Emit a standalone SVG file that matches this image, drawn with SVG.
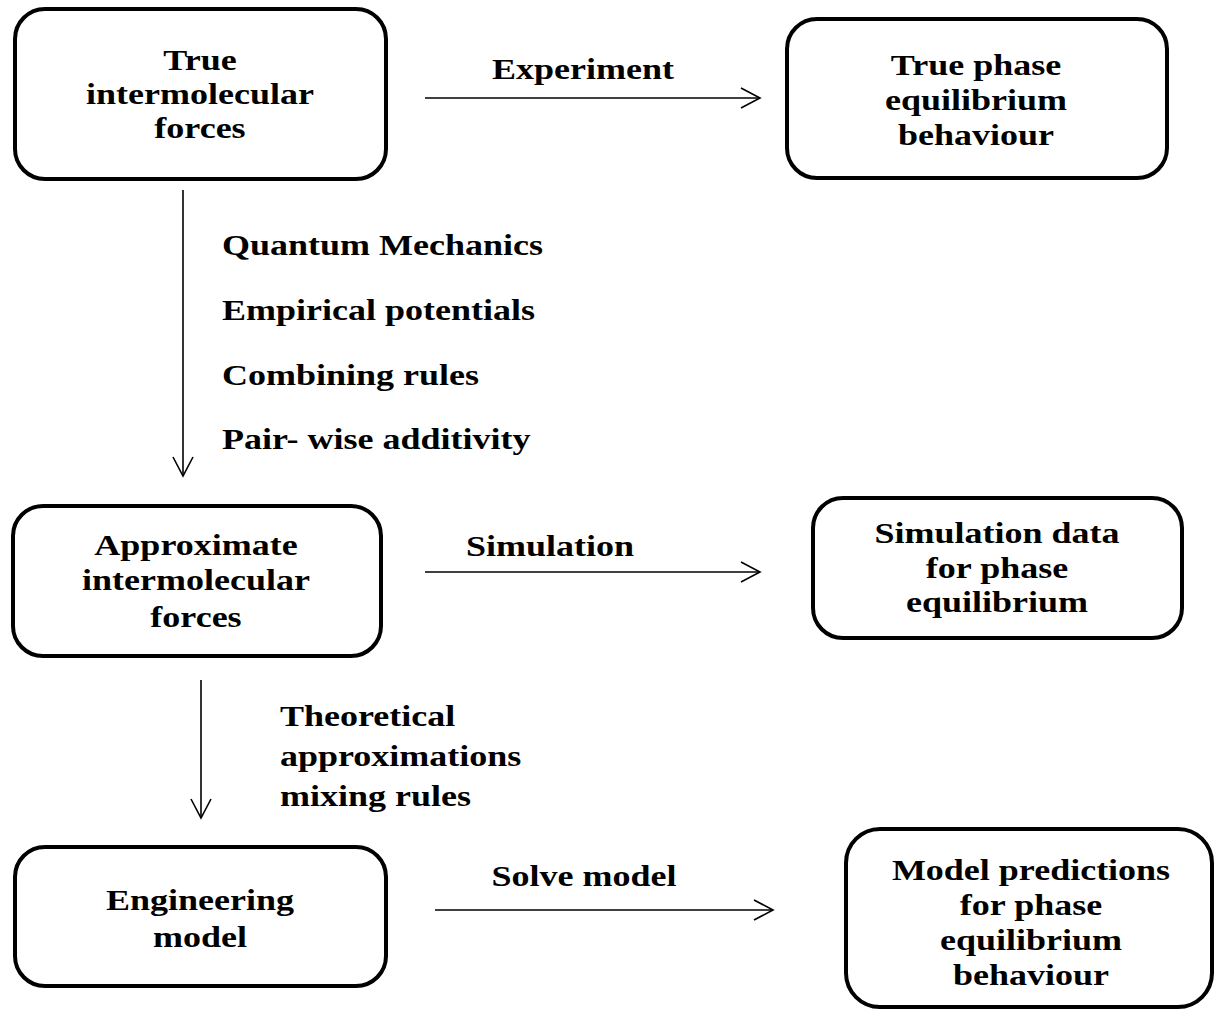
<svg xmlns="http://www.w3.org/2000/svg" width="1215" height="1009" viewBox="0 0 1215 1009">
<style>
.box{fill:#fff;stroke:#000;stroke-width:4}
.t{font-family:"Liberation Serif","Times New Roman",serif;font-weight:bold;font-size:30px;fill:#000}
.c{text-anchor:middle}
.ln{fill:none;stroke:#000;stroke-width:1.6}
</style>
<defs>
<marker id="ah" viewBox="0 0 22 22" refX="20" refY="11" markerWidth="22" markerHeight="22" markerUnits="userSpaceOnUse" orient="auto">
<path d="M1,1 L20,11 L1,21" fill="none" stroke="#000" stroke-width="1.6"/>
</marker>
</defs>
<rect width="1215" height="1009" fill="#fff"/>
<g id="connectors">
<line class="ln" x1="425" y1="98" x2="760" y2="98" marker-end="url(#ah)"/>
<line class="ln" x1="425" y1="572" x2="760" y2="572" marker-end="url(#ah)"/>
<line class="ln" x1="435" y1="910" x2="773" y2="910" marker-end="url(#ah)"/>
<line class="ln" x1="183" y1="190" x2="183" y2="476" marker-end="url(#ah)"/>
<line class="ln" x1="201" y1="680" x2="201" y2="818" marker-end="url(#ah)"/>
<g transform="translate(583,0) scale(1.2,1)"><text class="t c" x="0" y="79">Experiment</text></g>
<g transform="translate(550,0) scale(1.2,1)"><text class="t c" x="0" y="556">Simulation</text></g>
<g transform="translate(584,0) scale(1.2,1)"><text class="t c" x="0" y="886">Solve model</text></g>
<g transform="translate(222,0) scale(1.2,1)">
<text class="t" x="0" y="255">Quantum Mechanics</text>
<text class="t" x="0" y="320">Empirical potentials</text>
<text class="t" x="0" y="385">Combining rules</text>
<text class="t" x="0" y="449">Pair- wise additivity</text>
</g>
<g transform="translate(280,0) scale(1.2,1)">
<text class="t" x="0" y="726">Theoretical</text>
<text class="t" x="0" y="766">approximations</text>
<text class="t" x="0" y="806">mixing rules</text>
</g>
</g>
<g id="n1">
<rect class="box" x="15" y="9" width="371" height="170" rx="30"/>
<g transform="translate(200,0) scale(1.2,1)">
<text class="t c" x="0" y="70">True</text>
<text class="t c" x="0" y="104">intermolecular</text>
<text class="t c" x="0" y="138">forces</text>
</g>
</g>
<g id="n2">
<rect class="box" x="787" y="19" width="380" height="159" rx="30"/>
<g transform="translate(976,0) scale(1.2,1)">
<text class="t c" x="0" y="75">True phase</text>
<text class="t c" x="0" y="110">equilibrium</text>
<text class="t c" x="0" y="145">behaviour</text>
</g>
</g>
<g id="n3">
<rect class="box" x="13" y="506" width="368" height="150" rx="30"/>
<g transform="translate(196,0) scale(1.2,1)">
<text class="t c" x="0" y="555">Approximate</text>
<text class="t c" x="0" y="590">intermolecular</text>
<text class="t c" x="0" y="627">forces</text>
</g>
</g>
<g id="n4">
<rect class="box" x="813" y="498" width="369" height="140" rx="30"/>
<g transform="translate(997,0) scale(1.2,1)">
<text class="t c" x="0" y="543">Simulation data</text>
<text class="t c" x="0" y="578">for phase</text>
<text class="t c" x="0" y="612">equilibrium</text>
</g>
</g>
<g id="n5">
<rect class="box" x="15" y="847" width="371" height="139" rx="30"/>
<g transform="translate(200,0) scale(1.2,1)">
<text class="t c" x="0" y="910">Engineering</text>
<text class="t c" x="0" y="947">model</text>
</g>
</g>
<g id="n6">
<rect class="box" x="846" y="829" width="366" height="178" rx="34"/>
<g transform="translate(1031,0) scale(1.2,1)">
<text class="t c" x="0" y="880">Model predictions</text>
<text class="t c" x="0" y="915">for phase</text>
<text class="t c" x="0" y="950">equilibrium</text>
<text class="t c" x="0" y="985">behaviour</text>
</g>
</g>
</svg>
